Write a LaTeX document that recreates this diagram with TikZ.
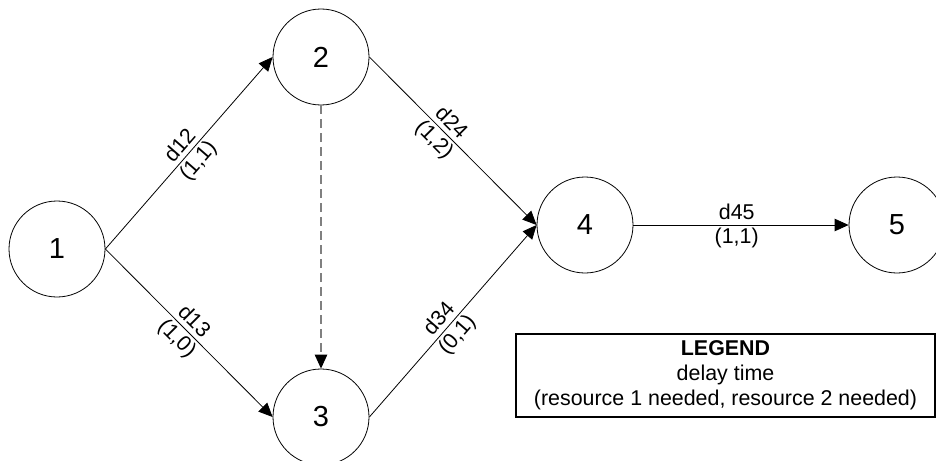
\documentclass[tikz,border=0pt]{standalone}
\usepackage{fontspec}
\setmainfont{Liberation Sans}
\usetikzlibrary{arrows.meta}
\definecolor{dashgray}{HTML}{808080}
\begin{document}
\begin{tikzpicture}[x=1pt,y=-1pt,
  state/.style={circle, draw, line width=0.8pt, minimum size=96pt, inner sep=0pt,
                font=\fontsize{29}{34}\selectfont},
  arc/.style={line width=0.8pt, -{Triangle[length=14pt,width=12.5pt]}},
  dasharc/.style={line width=1.1pt, dashgray, dash pattern=on 9pt off 5pt,
                  -{Triangle[length=14pt,width=12.5pt,black]}},
  lab/.style={font=\fontsize{21.4}{25}\selectfont, sloped, outer sep=0pt, inner xsep=0pt},
  lup/.style={lab, above, inner ysep=5pt},
  ldown/.style={lab, below, inner ysep=3pt},
  legendbox/.style={draw, line width=1.4pt, minimum width=419pt, minimum height=83pt,
                    inner sep=0pt, align=center, font=\fontsize{21.4}{25}\selectfont}
]
\useasboundingbox (0,0) rectangle (936,460);
\clip (0,0) rectangle (936,460);

\node[state] (n1) at (57,249) {1};
\node[state] (n2) at (321,57) {2};
\node[state] (n3) at (321,417) {3};
\node[state] (n4) at (585,225) {4};
\node[state] (n5) at (897,225) {5};

\draw[arc] (n1.east) -- node[lup, pos=0.5] {d12} node[ldown, pos=0.5] {(1,1)} (n2.west);
\draw[arc] (n1.east) -- node[lup, pos=0.48] {d13} node[ldown, pos=0.48] {(1,0)} (n3.west);
\draw[arc] (n2.east) -- node[lup, pos=0.44] {d24} node[ldown, pos=0.44] {(1,2)} (n4.west);
\draw[arc] (n3.east) -- node[lup, pos=0.47] {d34} node[ldown, pos=0.47] {(0,1)} (n4.west);
\draw[arc] (n4.east) -- node[lup, pos=0.48] {d45} node[ldown, pos=0.48] {(1,1)} (n5.west);
\draw[dasharc] (n2.south) -- (n3.north);

\node[legendbox] (legend) at (725.5,375.5)
  {\textbf{LEGEND}\\ delay time\\ (resource 1 needed, resource 2 needed)};
\end{tikzpicture}
\end{document}
